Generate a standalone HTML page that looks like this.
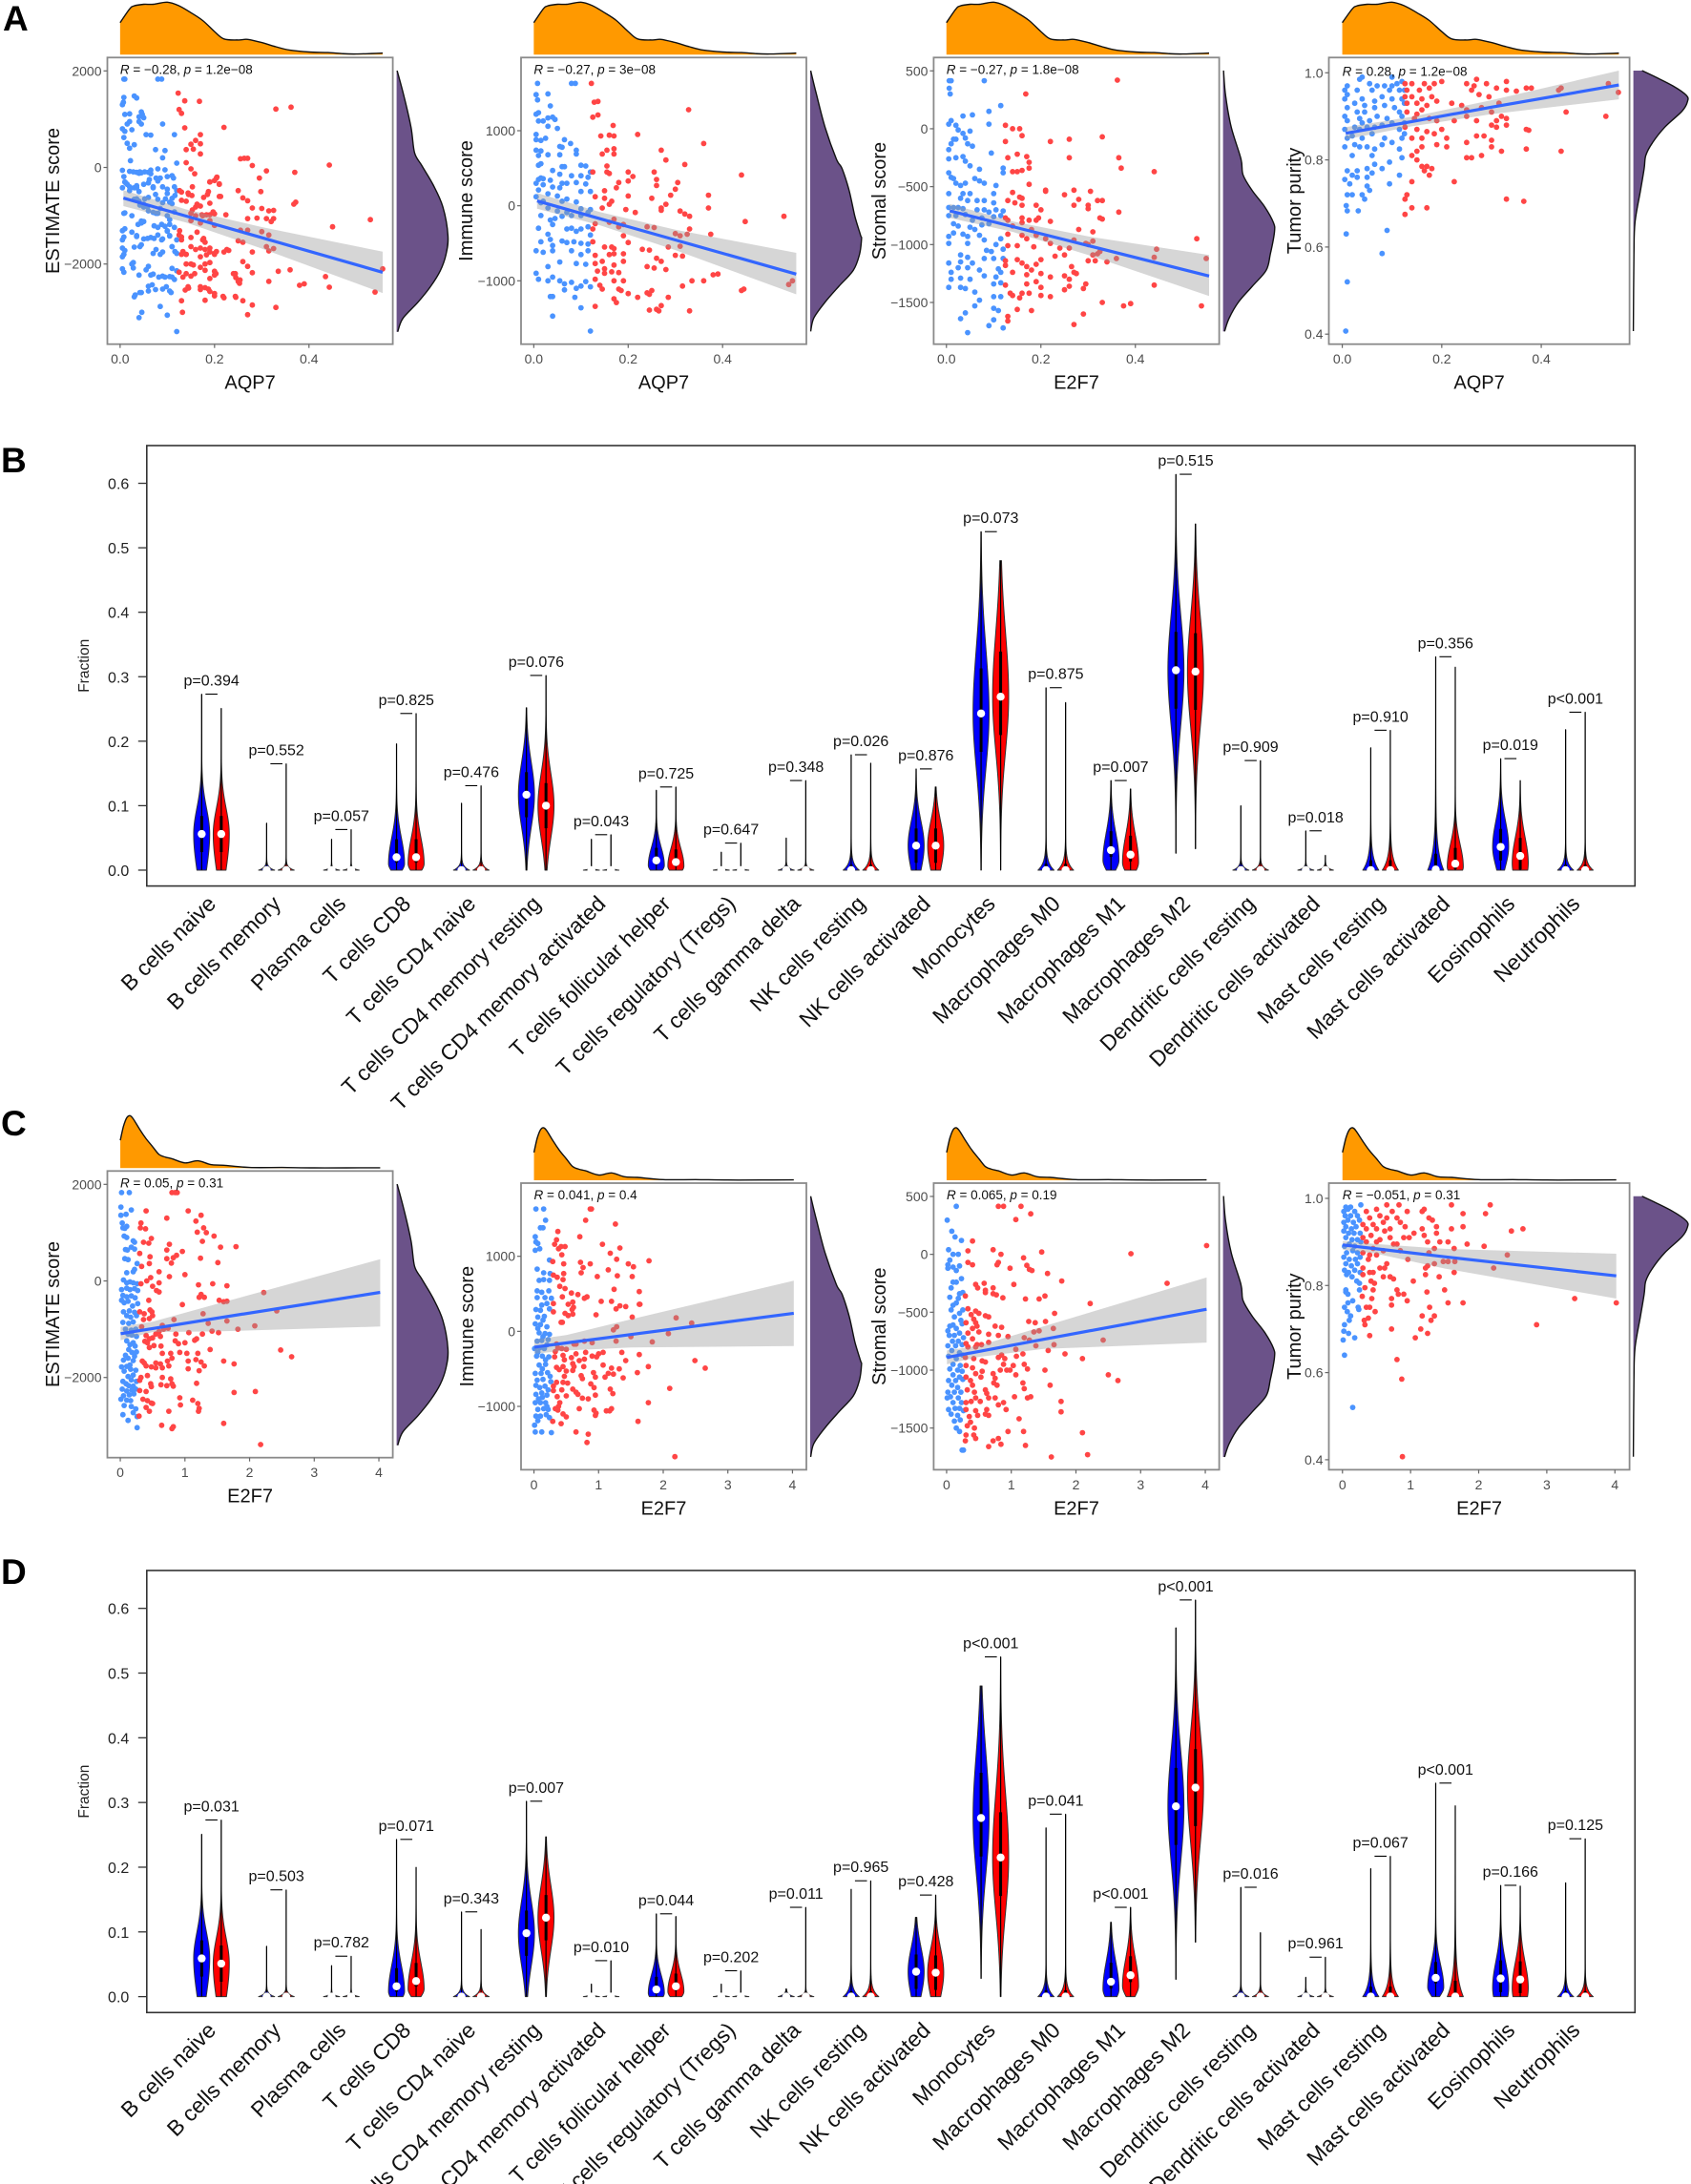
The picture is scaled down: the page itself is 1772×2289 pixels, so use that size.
<!DOCTYPE html>
<html lang="en">
<head>
<meta charset="utf-8">
<title>Immune infiltration correlation figure</title>
<style>
html,body{margin:0;padding:0;background:#fff;width:1772px;height:2289px;overflow:hidden}
svg{display:block}
text{font-family:"Liberation Sans",Arial,sans-serif}
</style>
</head>
<body>
<svg id="figure" xmlns="http://www.w3.org/2000/svg" width="1772" height="2289" viewBox="0 0 1772 2289">
<text x="3" y="32" font-size="37" font-weight="bold">A</text>
<text x="1" y="495" font-size="37" font-weight="bold">B</text>
<text x="1" y="1190" font-size="37" font-weight="bold">C</text>
<text x="1" y="1660" font-size="37" font-weight="bold">D</text>
</svg>
<script>
/* ---------- marginal densities: [value, relative density] ---------- */
const aqp7Density=[[0,.61],[.02,.87],[.03,.93],[.05,.96],[.07,.96],[.1,1],[.125,.93],[.15,.8],[.175,.65],[.2,.44],[.22,.3],[.25,.28],[.27,.29],[.3,.23],[.33,.15],[.36,.085],[.4,.05],[.44,.04],[.47,.02],[.5,.012],[.556,.03]];
const e2f7Density=[[0,.53],[.05,.8],[.1,.96],[.15,1],[.2,.94],[.3,.74],[.4,.56],[.5,.41],[.6,.26],[.7,.21],[.8,.18],[1,.1],[1.2,.14],[1.4,.067],[1.6,.055],[2,.012],[2.5,.012],[3,.005],[3.5,.005],[4.02,.008]];
const estimateDensity=[[2006,.01],[1492,.14],[832,.28],[304,.35],[40,.49],[-356,.71],[-818,.9],[-1412,1],[-1808,.96],[-2138,.85],[-2468,.66],[-2798,.41],[-3128,.12],[-3406,.02]];
const immuneDensity=[[1800,.01],[1488,.12],[1046,.29],[623,.51],[496,.62],[199,.76],[-140,.87],[-390,.98],[-440,1],[-648,.96],[-860,.84],[-1072,.56],[-1284,.29],[-1496,.07],[-1674,.01]];
const stromalDensity=[[503,.01],[288,.05],[14,.16],[-261,.35],[-398,.39],[-535,.57],[-673,.81],[-810,.98],[-893,1],[-1085,.92],[-1222,.84],[-1360,.57],[-1497,.3],[-1634,.12],[-1750,.03]];
const purityDensity=[[1.005,.16],[.992,.38],[.97,.73],[.948,.98],[.934,1],[.912,.9],[.875,.58],[.839,.35],[.81,.23],[.78,.2],[.729,.13],[.656,.03],[.583,.01],[.407,0]];

/* ---------- scatter points: [gene expression, score] ---------- */
const pointsA1=[[.008,1830],[.01,1830],[.08,1830],[.088,1830],[.008,1450],[.03,1480],[.035,1440],[.007,1350],[.005,1300],[.045,1150],[.047,1100],[.01,1100],[.02,1110],[.04,1050],[.05,1030],[.005,800],[.01,750],[.015,900],[.02,950],[.025,780],[.04,950],[.045,900],[.09,900],[.055,680],[.065,670],[.115,680],[.008,620],[.015,500],[.02,400],[.03,470],[.075,370],[.095,350],[.09,200],[.022,140],[.12,90],[.005,-60],[.02,-80],[.035,-100],[.04,-120],[.045,-110],[.06,-100],[.065,-130],[.08,-30],[.095,-50],[.1,-190],[.11,-170],[.085,-220],[.08,-280],[.01,-300],[.015,-350],[.02,-400],[.03,-420],[.035,-380],[.05,-350],[.06,-320],[.07,-400],[.09,-400],[.115,-400],[.12,-480],[.1,-540],[.04,-500],[.02,-480],[.06,-620],[.075,-560],[.08,-660],[.11,-640],[.105,-720],[.09,-730],[.04,-700],[.05,-760],[.03,-660],[.01,-940],[.025,-1000],[.05,-820],[.06,-900],[.07,-930],[.08,-950],[.1,-1000],[.115,-920],[.045,-1150],[.05,-1120],[.01,-1270],[.025,-1340],[.08,-1240],[.095,-1220],[.105,-1180],[.115,-1240],[.1,-1320],[.005,-1500],[.035,-1430],[.05,-1480],[.065,-1450],[.08,-1400],[.09,-1480],[.105,-1420],[.12,-1500],[.01,-1720],[.03,-1650],[.045,-1600],[.07,-1780],[.09,-1750],[.11,-1640],[.12,-1780],[.005,-1850],[.025,-2000],[.06,-2050],[.11,-2090],[.12,-2140],[.04,-2230],[.09,-2250],[.105,-2260],[.07,-2210],[.115,-2320],[.06,-2460],[.075,-2530],[.09,-2520],[.105,-2560],[.03,-2680],[.045,-2590],[.085,-2880],[.046,-3000],[.04,-3110],[.1,-3060],[.12,-3400],
[.008,-190],[.012,-320],[.005,-420],[.022,-420],[.035,-420],[.028,-90],[.042,-90],[.052,-90],[.065,-55],[.076,-220],[.062,-250],[.07,-420],[.1,-450],[.113,-220],[.116,-580],[.096,-650],[.052,-650],[.035,-650],[.042,-780],[.058,-815],[.076,-950],[.085,-850],[.11,-750],[.008,-950],[.038,-1180],[.045,-1110],[.072,-1210],[.088,-1180],[.105,-1080],[.1,-1310],[.005,-1310],[.008,-1440],[.035,-1410],[.042,-1640],[.058,-1470],[.072,-1470],[.088,-1500],[.105,-1410],[.11,-1640],[.116,-1740],[.005,-1670],[.008,-1800],[.076,-1700],[.085,-1800],[.028,-1970],[.005,-2100],[.008,-2170],[.028,-2080],[.055,-2120],[.065,-2230],[.082,-2270],[.095,-2270],[.11,-2270],[.098,-2470],[.068,-2430],[.06,-2560],[.108,-2590],[.042,-2590],[.032,-2640],
[.123,1540],[.137,1380],[.168,1370],[.125,1200],[.13,1120],[.137,820],[.22,830],[.33,1210],[.362,1250],[.17,680],[.16,560],[.17,490],[.15,480],[.14,370],[.155,380],[.17,280],[.255,180],[.263,190],[.27,190],[.28,40],[.14,100],[.15,-30],[.158,-130],[.31,-70],[.295,-220],[.37,-100],[.443,50],[.205,-200],[.2,-270],[.19,-300],[.21,-340],[.25,-480],[.298,-500],[.13,-510],[.145,-560],[.152,-580],[.185,-560],[.177,-620],[.21,-600],[.26,-630],[.27,-690],[.372,-720],[.368,-760],[.14,-700],[.16,-820],[.17,-800],[.19,-740],[.28,-840],[.3,-850],[.315,-900],[.325,-890],[.15,-950],[.16,-1000],[.175,-1000],[.19,-980],[.2,-960],[.27,-1060],[.29,-1050],[.31,-1060],[.325,-1060],[.32,-1120],[.15,-1100],[.17,-1150],[.19,-1100],[.2,-1200],[.255,-1300],[.27,-1300],[.3,-1330],[.315,-1400],[.125,-1400],[.13,-1500],[.15,-1450],[.175,-1500],[.18,-1550],[.25,-1520],[.26,-1550],[.31,-1640],[.16,-1700],[.18,-1700],[.19,-1750],[.2,-1780],[.22,-1750],[.23,-1720],[.325,-1680],[.315,-1730],[.28,-1750],[.13,-1800],[.14,-1800],[.17,-1850],[.2,-1800],[.14,-2000],[.155,-2020],[.18,-2000],[.26,-1950],[.27,-2050],[.18,-2130],[.2,-2150],[.125,-2170],[.14,-2200],[.15,-2250],[.2,-2230],[.24,-2200],[.245,-2280],[.28,-2180],[.335,-2150],[.36,-2120],[.315,-2360],[.25,-2360],[.253,-2400],[.145,-2500],[.138,-2540],[.17,-2530],[.18,-2490],[.19,-2570],[.2,-2660],[.22,-2700],[.245,-2690],[.13,-2760],[.18,-2750],[.26,-2760],[.28,-2850],[.33,-2900],[.132,-3000],[.27,-3050],[.38,-2440],[.39,-2410],[.435,-2260],[.443,-2480],[.54,-2580],[.556,-2100],[.45,-1230],[.53,-1080],
[.126,-480],[.13,-680],[.144,-530],[.153,-400],[.187,-500],[.19,-300],[.204,-220],[.21,-350],[.213,-600],[.163,-760],[.153,-880],[.173,-980],[.183,-980],[.197,-920],[.224,-980],[.126,-1310],[.13,-1440],[.163,-1340],[.177,-1470],[.15,-1640],[.17,-1670],[.19,-1670],[.226,-1700],[.133,-1740],[.14,-1800],[.183,-1810],[.204,-1740],[.15,-2000],[.17,-2070],[.19,-1970],[.133,-2270],[.158,-2200],[.203,-2200],[.19,-2300],[.244,-2200],[.254,-2330],[.17,-2470],[.187,-2520],[.144,-2470],[.2,-2610],[.218,-2670],[.244,-2670]];
const pointsA2=[[.008,1630],[.08,1630],[.088,1630],[.005,1480],[.03,1490],[.008,1410],[.035,1330],[.01,1240],[.005,1220],[.01,1130],[.02,1130],[.03,1170],[.04,1180],[.045,1150],[.03,1060],[.05,1030],[.005,950],[.005,880],[.015,870],[.025,900],[.065,880],[.078,830],[.055,790],[.06,780],[.005,740],[.015,730],[.09,740],[.01,670],[.03,680],[.055,680],[.09,690],[.015,560],[.01,540],[.06,520],[.065,520],[.1,540],[.11,530],[.12,450],[.04,470],[.055,420],[.08,400],[.1,400],[.115,380],[.01,350],[.015,370],[.02,360],[.035,340],[.005,300],[.02,280],[.06,300],[.07,300],[.09,310],[.11,290],[.04,250],[.055,240],[.01,210],[.03,160],[.1,190],[.12,190],[.05,130],[.06,60],[.07,90],[.09,50],[.005,120],[.015,40],[.02,60],[.1,-40],[.12,-50],[.03,-30],[.05,-70],[.07,-90],[.08,-130],[.1,-130],[.115,-90],[.015,-130],[.045,-170],[.06,-140],[.01,-300],[.035,-190],[.04,-250],[.07,-310],[.08,-300],[.09,-340],[.1,-310],[.115,-280],[.12,-390],[.03,-380],[.015,-480],[.035,-450],[.04,-530],[.06,-470],[.07,-490],[.085,-480],[.1,-500],[.115,-510],[.005,-600],[.02,-620],[.04,-600],[.08,-600],[.1,-650],[.115,-600],[.03,-810],[.055,-750],[.09,-770],[.11,-780],[.005,-900],[.01,-980],[.04,-950],[.055,-1000],[.065,-1040],[.08,-1020],[.09,-1100],[.1,-1070],[.11,-1010],[.12,-1080],[.03,-1000],[.065,-1120],[.04,-1210],[.035,-1210],[.087,-1220],[.1,-1360],[.04,-1470],[.12,-1670],
[.122,1630],[.128,1380],[.136,1390],[.125,1180],[.136,1210],[.168,1070],[.142,930],[.16,940],[.17,930],[.22,950],[.36,830],[.328,1280],[.27,740],[.145,690],[.155,740],[.17,760],[.17,690],[.28,610],[.32,550],[.125,450],[.155,530],[.155,450],[.16,430],[.2,450],[.255,450],[.21,390],[.2,330],[.18,310],[.175,240],[.26,350],[.26,270],[.305,310],[.3,220],[.29,140],[.37,140],[.15,200],[.13,120],[.15,100],[.165,60],[.145,-30],[.16,20],[.2,130],[.25,100],[.27,-30],[.27,-60],[.28,20],[.195,-50],[.215,-90],[.31,-70],[.32,-110],[.33,-140],[.37,-30],[.44,410],[.448,-210],[.53,-140],[.13,-240],[.16,-220],[.17,-180],[.19,-250],[.18,-280],[.24,-280],[.255,-290],[.33,-310],[.3,-370],[.31,-400],[.325,-380],[.375,-380],[.125,-310],[.125,-480],[.19,-400],[.15,-550],[.165,-550],[.17,-570],[.2,-490],[.31,-540],[.285,-550],[.23,-580],[.245,-590],[.13,-660],[.16,-650],[.17,-640],[.19,-640],[.3,-660],[.315,-670],[.27,-740],[.26,-700],[.13,-770],[.145,-740],[.15,-840],[.17,-790],[.19,-740],[.24,-810],[.255,-830],[.28,-850],[.135,-870],[.15,-900],[.165,-880],[.18,-890],[.13,-980],[.17,-1000],[.19,-1000],[.335,-1000],[.36,-1000],[.38,-920],[.39,-910],[.145,-1110],[.14,-1060],[.18,-1110],[.185,-1130],[.2,-1170],[.22,-1220],[.24,-1160],[.25,-1130],[.245,-1180],[.315,-1070],[.285,-1220],[.17,-1240],[.175,-1290],[.13,-1340],[.245,-1390],[.26,-1380],[.27,-1330],[.265,-1400],[.33,-1400],[.44,-1130],[.445,-1110],[.54,-1050],[.548,-1000]];
const pointsA3=[[.006,415],[.01,415],[.08,415],[.006,350],[.008,300],[.115,200],[.09,150],[.035,110],[.055,120],[.01,70],[.005,40],[.02,30],[.09,40],[.025,-10],[.035,-40],[.05,-20],[.04,-80],[.045,-130],[.015,-90],[.02,-90],[.01,-130],[.005,-180],[.055,-150],[.095,-210],[.005,-260],[.02,-250],[.035,-240],[.04,-280],[.05,-320],[.12,-340],[.07,-350],[.12,-380],[.005,-380],[.01,-420],[.015,-430],[.02,-470],[.06,-430],[.07,-450],[.08,-470],[.03,-490],[.04,-470],[.105,-490],[.1,-560],[.005,-560],[.035,-560],[.05,-560],[.03,-600],[.045,-620],[.065,-620],[.08,-620],[.1,-640],[.005,-680],[.015,-680],[.025,-680],[.035,-690],[.065,-700],[.08,-700],[.09,-720],[.105,-700],[.12,-710],[.005,-750],[.02,-750],[.04,-740],[.055,-790],[.075,-770],[.1,-760],[.115,-750],[.015,-820],[.025,-840],[.05,-850],[.06,-870],[.075,-830],[.09,-820],[.005,-930],[.015,-900],[.035,-910],[.045,-930],[.07,-920],[.08,-960],[.005,-990],[.045,-990],[.115,-950],[.105,-1000],[.12,-1040],[.085,-1050],[.095,-1060],[.03,-1090],[.045,-1110],[.08,-1120],[.005,-1160],[.03,-1150],[.055,-1160],[.1,-1120],[.12,-1120],[.01,-1240],[.025,-1200],[.045,-1200],[.07,-1220],[.11,-1210],[.115,-1240],[.01,-1300],[.03,-1290],[.05,-1300],[.08,-1270],[.105,-1280],[.115,-1330],[.005,-1370],[.03,-1370],[.04,-1380],[.06,-1410],[.1,-1340],[.1,-1450],[.115,-1450],[.07,-1480],[.06,-1530],[.1,-1550],[.11,-1570],[.04,-1590],[.03,-1640],[.1,-1650],[.09,-1700],[.12,-1720],[.045,-1760],
[.362,420],[.168,300],[.125,30],[.14,0],[.155,0],[.16,-60],[.125,-110],[.22,-110],[.26,-90],[.33,-70],[.15,-220],[.13,-250],[.17,-240],[.175,-290],[.26,-250],[.365,-250],[.37,-340],[.175,-340],[.14,-370],[.15,-370],[.16,-360],[.44,-370],[.175,-480],[.21,-540],[.21,-530],[.25,-570],[.27,-530],[.305,-540],[.14,-550],[.155,-590],[.16,-600],[.13,-620],[.145,-640],[.16,-660],[.28,-610],[.32,-620],[.33,-620],[.27,-660],[.3,-660],[.3,-690],[.365,-720],[.19,-660],[.2,-700],[.125,-770],[.13,-790],[.16,-770],[.175,-790],[.19,-790],[.195,-770],[.22,-800],[.325,-770],[.33,-780],[.16,-810],[.14,-840],[.18,-870],[.28,-870],[.31,-890],[.13,-910],[.16,-920],[.17,-950],[.19,-920],[.21,-950],[.22,-990],[.27,-960],[.295,-990],[.31,-970],[.3,-1000],[.53,-950],[.13,-1010],[.15,-1010],[.185,-1020],[.24,-1030],[.26,-1030],[.325,-1060],[.445,-1040],[.25,-1090],[.23,-1100],[.31,-1090],[.32,-1080],[.55,-1120],[.44,-1110],[.125,-1140],[.15,-1130],[.19,-1170],[.17,-1190],[.16,-1160],[.2,-1130],[.3,-1140],[.315,-1140],[.34,-1150],[.36,-1120],[.125,-1180],[.14,-1240],[.17,-1260],[.18,-1220],[.2,-1250],[.265,-1190],[.27,-1240],[.25,-1270],[.22,-1280],[.26,-1300],[.275,-1250],[.125,-1350],[.135,-1420],[.155,-1460],[.17,-1340],[.19,-1320],[.2,-1370],[.26,-1360],[.29,-1380],[.295,-1340],[.14,-1440],[.16,-1420],[.175,-1420],[.2,-1440],[.25,-1390],[.22,-1450],[.44,-1350],[.33,-1500],[.375,-1530],[.39,-1510],[.54,-1530],[.15,-1560],[.18,-1570],[.13,-1620],[.13,-1660],[.29,-1600],[.27,-1690]];
const pointsA4=[[.04,.99],[.1,.99],[.01,.97],[.005,.96],[.035,.985],[.055,.975],[.07,.97],[.085,.97],[.1,.97],[.11,.975],[.12,.98],[.005,.94],[.01,.95],[.03,.96],[.06,.96],[.095,.96],[.115,.96],[.125,.96],[.01,.92],[.025,.93],[.04,.94],[.045,.925],[.065,.935],[.08,.945],[.1,.94],[.12,.94],[.125,.93],[.005,.9],[.03,.91],[.045,.91],[.065,.92],[.085,.925],[.105,.92],[.115,.91],[.01,.89],[.035,.895],[.04,.885],[.055,.89],[.07,.9],[.09,.895],[.1,.885],[.12,.9],[.125,.885],[.005,.87],[.025,.875],[.035,.87],[.05,.875],[.065,.875],[.08,.88],[.115,.87],[.01,.85],[.02,.855],[.04,.85],[.06,.86],[.085,.85],[.12,.85],[.125,.86],[.005,.83],[.025,.835],[.035,.83],[.05,.83],[.065,.825],[.08,.835],[.1,.84],[.115,.825],[.02,.81],[.06,.81],[.12,.805],[.095,.795],[.01,.775],[.02,.765],[.03,.775],[.05,.78],[.065,.79],[.08,.78],[.005,.755],[.015,.745],[.03,.76],[.05,.76],[.06,.77],[.115,.765],[.05,.74],[.095,.745],[.04,.72],[.055,.73],[.01,.72],[.02,.72],[.045,.71],[.008,.695],[.01,.683],[.032,.683],[.008,.63],[.09,.638],[.08,.585],[.01,.52],[.007,.407],
[.33,.98],[.27,.985],[.2,.98],[.185,.975],[.165,.975],[.14,.975],[.126,.975],[.25,.975],[.265,.97],[.29,.975],[.31,.965],[.37,.965],[.38,.965],[.44,.965],[.535,.975],[.555,.955],[.435,.96],[.13,.96],[.155,.96],[.175,.965],[.26,.96],[.33,.96],[.35,.958],[.126,.945],[.14,.945],[.16,.94],[.18,.945],[.275,.95],[.295,.945],[.13,.93],[.15,.93],[.17,.925],[.19,.935],[.22,.93],[.24,.925],[.315,.93],[.13,.91],[.15,.905],[.16,.915],[.25,.915],[.28,.92],[.3,.91],[.145,.895],[.175,.895],[.19,.89],[.225,.89],[.25,.9],[.31,.89],[.32,.9],[.33,.895],[.45,.91],[.53,.9],[.27,.89],[.3,.88],[.126,.875],[.15,.87],[.17,.865],[.2,.87],[.31,.875],[.33,.88],[.37,.87],[.375,.868],[.14,.85],[.16,.85],[.185,.86],[.21,.85],[.25,.84],[.27,.855],[.3,.845],[.285,.855],[.16,.83],[.19,.835],[.21,.83],[.3,.83],[.32,.82],[.37,.825],[.15,.82],[.14,.81],[.28,.81],[.15,.8],[.44,.82],[.25,.805],[.26,.805],[.17,.785],[.16,.785],[.18,.78],[.165,.775],[.175,.765],[.14,.75],[.225,.75],[.13,.72],[.126,.71],[.33,.71],[.365,.705],[.14,.69],[.17,.69],[.126,.675]];
const pointsC1=[[.02,1830],[.14,1830],[.01,1530],[.17,1470],[.09,1380],[.01,1360],[.03,1200],[.04,1100],[.1,1130],[.07,1090],[.1,900],[.06,930],[.2,830],[.22,800],[.17,700],[.08,650],[.22,660],[.11,640],[.07,460],[.12,440],[.26,360],[.22,240],[.2,190],[.1,170],[.05,20],[.1,-40],[.15,-20],[.2,-40],[.26,-60],[.02,-180],[.1,-150],[.15,-180],[.22,-160],[.27,-200],[.04,-300],[.1,-330],[.17,-310],[.23,-350],[.02,-400],[.06,-450],[.12,-420],[.19,-520],[.27,-470],[.05,-640],[.14,-620],[.22,-650],[.1,-720],[.16,-750],[.25,-720],[.04,-860],[.13,-880],[.2,-850],[.08,-1000],[.17,-1020],[.24,-1000],[.12,-1100],[.18,-1120],[.25,-1150],[.1,-1240],[.15,-1320],[.2,-1280],[.23,-1350],[.13,-1420],[.18,-1480],[.25,-1470],[.08,-1540],[.12,-1600],[.22,-1560],[.05,-1640],[.2,-1650],[.02,-1780],[.1,-1770],[.15,-1740],[.06,-1870],[.16,-1830],[.24,-1850],[.12,-1980],[.2,-1950],[.04,-2080],[.17,-2050],[.25,-2080],[.09,-2130],[.13,-2170],[.2,-2180],[.03,-2240],[.1,-2280],[.18,-2260],[.24,-2240],[.05,-2380],[.14,-2360],[.21,-2340],[.01,-2450],[.1,-2470],[.16,-2480],[.06,-2580],[.17,-2600],[.24,-2650],[.04,-2770],[.2,-2730],[.26,-2810],[.12,-2890],[.26,-3040],
[.8,1830],[.85,1830],[.88,1830],[.4,1450],[1.05,1450],[1.25,1360],[.72,1300],[1.17,1240],[.32,1200],[.31,1100],[.39,1080],[1.29,1100],[1.33,1000],[1.19,1010],[1.45,930],[.48,880],[1.27,820],[.36,800],[.44,780],[.76,760],[1.55,700],[1.79,710],[.72,640],[.96,610],[.87,530],[.82,480],[.46,500],[.72,460],[.3,570],[.79,370],[1.24,470],[1.51,380],[.45,360],[.33,300],[1,130],[.6,190],[.76,90],[.47,70],[.41,0],[.6,-40],[.32,-60],[1.21,-80],[1.43,-60],[1.65,-100],[.5,-110],[.56,-200],[.6,-230],[2.22,-240],[1.25,-280],[1.22,-340],[1.3,-340],[.44,-400],[1.53,-400],[1.6,-430],[1.65,-420],[.96,-490],[.3,-640],[.46,-600],[.49,-640],[.37,-680],[2.42,-620],[1.28,-680],[.36,-800],[.45,-780],[.5,-720],[.83,-800],[1.65,-830],[1.36,-880],[.33,-950],[.65,-920],[.67,-1000],[.74,-980],[.86,-1100],[1.82,-1000],[2.08,-930],[1.42,-1040],[1.52,-1070],[.6,-1050],[.55,-1100],[.4,-1130],[.45,-1200],[.5,-1180],[.62,-1150],[1.06,-1070],[1.27,-1100],[.42,-1280],[.38,-1250],[.85,-1240],[.9,-1300],[1,-1280],[1.18,-1200],[1.15,-1230],[.45,-1380],[.52,-1340],[.63,-1350],[1.39,-1420],[2.48,-1430],[.65,-1500],[.78,-1500],[.92,-1480],[1.03,-1500],[1.2,-1500],[2.65,-1570],[.34,-1660],[.37,-1700],[.48,-1780],[.55,-1700],[.62,-1720],[.73,-1660],[.8,-1600],[1.05,-1660],[1.17,-1630],[1.25,-1680],[1.6,-1660],[1.76,-1720],[.4,-1760],[.55,-1800],[.65,-1800],[.75,-1760],[1.05,-1820],[1.22,-1860],[1.3,-1760],[.32,-2000],[.42,-1960],[.65,-2000],[.78,-2030],[.3,-2060],[.47,-2130],[.8,-2130],[1.18,-2120],[.48,-2190],[.63,-2150],[.72,-2170],[.82,-2180],[.3,-2270],[.4,-2290],[1.76,-2310],[2.09,-2290],[.35,-2450],[.42,-2480],[.48,-2530],[.5,-2540],[.92,-2420],[1.12,-2470],[1.2,-2540],[.4,-2620],[.45,-2700],[.75,-2700],[.93,-2570],[1.22,-2640],[.29,-2800],[.64,-2990],[.82,-3020],[.8,-3060],[1.6,-2950],[2.17,-3390],[1.21,-2700]];
const pointsC2=[[.03,1630],[.15,1630],[.18,1480],[.14,1380],[.1,1380],[.02,1260],[.03,1190],[.06,1170],[.02,1080],[.09,1100],[.24,950],[.05,830],[.15,780],[.25,770],[.08,680],[.15,690],[.24,680],[.05,540],[.12,520],[.23,540],[.05,450],[.17,450],[.27,440],[.12,350],[.2,370],[.03,290],[.1,280],[.24,300],[.06,190],[.16,200],[.02,100],[.1,90],[.2,60],[.08,-20],[.17,-30],[.24,-40],[.05,-130],[.12,-120],[.22,-110],[.01,-230],[.09,-220],[.16,-230],[.04,-330],[.13,-330],[.23,-340],[.08,-450],[.18,-440],[.02,-560],[.11,-560],[.21,-550],[.05,-650],[.14,-640],[.26,-670],[.09,-750],[.17,-730],[.03,-840],[.12,-820],[.2,-850],[.02,-950],[.1,-950],[.18,-950],[.06,-1040],[.15,-1030],[.22,-1040],[.03,-1130],[.1,-1130],[.19,-1110],[.24,-1150],[.01,-1250],[.06,-1190],[.02,-1340],[.12,-1340],[.27,-1350],[.14,150],[.06,40],[.14,-70],[.2,-180],[.06,-280],[.18,-380],[.13,-500],[.25,-600],[.03,-720],[.22,-780],[.07,-900],[.13,-880],[.2,-1000],
[.87,1630],[.89,1630],[.8,1480],[1.26,1430],[.37,1330],[.35,1220],[.71,1260],[.32,1160],[.42,1130],[.48,1130],[.38,1100],[1.06,1160],[1.33,1110],[1.18,1040],[.43,1020],[1.28,960],[1.78,940],[.29,930],[.46,900],[.72,920],[.87,900],[1.46,900],[1.54,860],[.76,850],[1.15,820],[.73,780],[.46,770],[.98,730],[1.29,740],[1.52,730],[.3,750],[.36,720],[.45,690],[.4,600],[.48,570],[1.24,560],[1.63,530],[.58,510],[.68,490],[.82,460],[.78,440],[.44,460],[1.04,400],[1.2,400],[1.64,360],[1.63,360],[.6,390],[.53,360],[.3,370],[1.33,340],[1.42,330],[.61,320],[.59,290],[1.27,300],[.3,260],[.48,240],[.53,210],[.6,230],[.96,220],[1.52,190],[2.2,180],[.42,120],[.44,120],[2.44,110],[1.28,60],[1.23,20],[2.08,-30],[1.27,-130],[.35,-170],[.62,-170],[.65,-170],[.78,-130],[.9,-150],[1.5,-70],[1.83,-140],[.37,-220],[.43,-230],[.5,-240],[.33,-270],[.65,-300],[.8,-280],[1,-300],[1.07,-280],[1.36,-280],[1.63,-310],[.45,-320],[.32,-340],[.47,-380],[.58,-350],[.78,-370],[.9,-330],[.97,-340],[.6,-430],[.7,-390],[1.42,-390],[2.49,-390],[.35,-480],[.45,-470],[.62,-470],[.77,-470],[1.07,-450],[1.2,-490],[1.32,-500],[1.77,-470],[2.65,-490],[.39,-510],[.5,-530],[.6,-520],[.92,-550],[1.15,-560],[1.23,-570],[1.6,-550],[.35,-680],[.47,-600],[.73,-590],[.75,-630],[.95,-610],[1.1,-610],[1.38,-620],[.3,-730],[.45,-680],[.52,-690],[.88,-700],[.93,-750],[2.1,-760],[.3,-790],[.43,-780],[.6,-770],[.65,-810],[.68,-840],[.95,-850],[1.18,-770],[1.22,-830],[.36,-870],[.5,-860],[.75,-890],[.84,-900],[.4,-950],[.38,-1000],[.33,-1030],[.7,-1030],[.93,-1050],[.96,-1090],[.95,-1120],[1.17,-1060],[1.2,-1030],[1.12,-1060],[1.77,-950],[.37,-1050],[.45,-1100],[.5,-1140],[.29,-1200],[.42,-1230],[1.61,-1200],[.65,-1340],[.84,-1370],[.82,-1480],[2.18,-1670]];
const pointsC3=[[.15,415],[.01,295],[.08,200],[.13,150],[.23,120],[.03,40],[.1,0],[.18,0],[.05,-50],[.02,-90],[.02,-120],[.1,-110],[.2,-100],[.15,-140],[.23,-210],[.1,-240],[.15,-240],[.07,-290],[.25,-330],[.2,-340],[.05,-370],[.18,-380],[.1,-440],[.15,-420],[.25,-480],[.07,-480],[.2,-510],[.12,-540],[.05,-620],[.22,-570],[.24,-600],[.1,-610],[.15,-640],[.02,-660],[.04,-700],[.12,-700],[.2,-680],[.26,-720],[.09,-750],[.18,-750],[.02,-790],[.14,-790],[.24,-780],[.08,-830],[.2,-850],[.03,-880],[.15,-900],[.25,-870],[.1,-950],[.21,-960],[.05,-990],[.17,-1000],[.24,-1010],[.1,-1040],[.2,-1060],[.03,-1090],[.14,-1090],[.25,-1080],[.08,-1130],[.17,-1150],[.02,-1190],[.12,-1190],[.22,-1190],[.06,-1230],[.18,-1240],[.01,-1240],[.1,-1280],[.23,-1280],[.03,-1340],[.13,-1330],[.2,-1330],[.26,-1350],[.07,-1380],[.17,-1390],[.12,-1440],[.21,-1430],[.15,-1500],[.2,-1530],[.26,-1690],[.24,-1690],
[.8,415],[.88,415],[1.15,415],[1.07,300],[1.3,350],[.4,115],[4.02,75],[.72,40],[.33,30],[.84,0],[1.19,-30],[1.47,20],[2.85,5],[.33,-70],[.78,-90],[.8,-70],[.4,-90],[1.24,-95],[.98,-120],[1.28,-130],[1.32,-140],[1.56,-165],[1.78,-230],[.58,-250],[.45,-260],[.48,-290],[.72,-290],[.6,-310],[1.04,-260],[3.41,-250],[.6,-330],[.72,-340],[.77,-350],[.29,-360],[.87,-375],[1.22,-385],[1.43,-385],[1.52,-360],[2.22,-425],[.33,-470],[.45,-490],[.5,-510],[.38,-520],[.6,-530],[.65,-540],[.42,-560],[1.67,-510],[.3,-590],[.45,-590],[1.27,-580],[1.37,-590],[1.53,-580],[.75,-620],[.85,-630],[.4,-640],[.47,-620],[1.65,-640],[.33,-680],[.5,-670],[1.35,-670],[1.43,-660],[.65,-690],[.8,-700],[.95,-710],[.4,-730],[1.2,-720],[.3,-770],[.47,-780],[.54,-780],[.65,-760],[1.28,-740],[1.38,-790],[2.42,-740],[1.66,-780],[.33,-800],[.45,-800],[1.07,-820],[1.18,-860],[1.57,-830],[.29,-890],[.42,-900],[.85,-870],[.9,-900],[1.08,-880],[.55,-920],[.6,-930],[.8,-890],[1.83,-860],[2.1,-900],[.3,-960],[.4,-980],[.88,-950],[1.2,-950],[1.03,-960],[1.25,-990],[.45,-1030],[.55,-1010],[.72,-1030],[.83,-1000],[.93,-1000],[.98,-1000],[1.52,-1000],[.3,-1060],[.37,-1090],[.53,-1060],[.75,-1070],[1.07,-1040],[2.5,-1040],[.4,-1130],[.73,-1110],[.78,-1130],[2.65,-1090],[1.18,-1110],[.32,-1170],[.43,-1190],[.6,-1170],[1.2,-1160],[1.6,-1130],[.62,-1200],[.65,-1240],[.75,-1240],[.45,-1240],[.52,-1270],[.3,-1280],[.38,-1270],[.8,-1300],[.88,-1280],[1.05,-1230],[1.25,-1240],[1.3,-1230],[1.77,-1270],[.3,-1340],[.45,-1350],[.62,-1340],[.92,-1340],[1.77,-1360],[.35,-1400],[.48,-1390],[.6,-1380],[.65,-1390],[1.12,-1420],[.32,-1480],[.37,-1450],[.43,-1500],[.95,-1530],[1.19,-1530],[2.1,-1540],[.3,-1560],[.42,-1560],[.45,-1590],[.29,-1610],[.72,-1610],[.8,-1590],[.65,-1660],[.84,-1640],[1.22,-1650],[1.62,-1750],[2.18,-1730]];
const pointsC4=[[.05,.98],[.12,.98],[.27,.985],[.02,.97],[.08,.975],[.18,.97],[.04,.96],[.12,.96],[.22,.96],[.02,.945],[.08,.95],[.16,.945],[.25,.95],[.05,.935],[.13,.93],[.2,.935],[.02,.925],[.09,.92],[.17,.92],[.26,.92],[.05,.91],[.14,.905],[.22,.905],[.03,.89],[.1,.895],[.18,.89],[.27,.9],[.06,.875],[.15,.88],[.22,.875],[.02,.865],[.1,.86],[.19,.86],[.26,.865],[.05,.85],[.13,.845],[.22,.85],[.03,.835],[.09,.83],[.18,.835],[.26,.83],[.06,.825],[.14,.82],[.21,.81],[.25,.805],[.05,.79],[.25,.79],[.08,.78],[.05,.785],[.15,.765],[.08,.76],[.23,.75],[.24,.745],[.03,.75],[.12,.73],[.07,.74],[.1,.72],[.03,.71],[.02,.695],[.09,.69],[.18,.68],[.01,.675],[.03,.64],[.15,.52],
[.65,.985],[.83,.985],[1.6,.985],[2.17,.985],[.35,.97],[.5,.975],[.73,.97],[1.17,.97],[1.2,.975],[2.1,.965],[1.77,.965],[.95,.97],[.4,.955],[.55,.96],[.65,.955],[.8,.955],[1.27,.955],[.3,.94],[.45,.94],[.6,.945],[.7,.93],[.85,.945],[1.32,.95],[.35,.93],[.5,.93],[.62,.925],[.92,.935],[1.17,.93],[1.38,.935],[1.6,.93],[1.77,.935],[2.65,.93],[.3,.91],[.42,.915],[.55,.905],[.7,.91],[.9,.91],[1.05,.92],[1.2,.915],[1.38,.92],[2.48,.925],[.35,.9],[.5,.9],[.8,.895],[.98,.91],[1.25,.9],[1.43,.9],[1.55,.9],[.45,.885],[.6,.88],[.75,.895],[1.35,.885],[1.64,.885],[1.83,.895],[2.08,.89],[.3,.875],[.4,.87],[.5,.87],[.85,.88],[1.27,.875],[2.42,.87],[.38,.86],[.65,.85],[.96,.86],[1.25,.845],[1.55,.855],[1.65,.855],[.3,.84],[.4,.83],[.55,.84],[.62,.84],[1.22,.84],[1.35,.85],[1.48,.855],[2.22,.84],[.3,.825],[.45,.83],[.6,.82],[.7,.82],[1.22,.825],[1.42,.82],[1.64,.83],[.42,.81],[.47,.805],[.75,.815],[1.04,.81],[.33,.795],[.45,.79],[.8,.79],[.9,.78],[1.24,.785],[1.5,.79],[.29,.775],[.43,.77],[.72,.77],[.95,.765],[.82,.78],[3.41,.77],[4.02,.76],[1.55,.76],[.35,.75],[.72,.755],[1.28,.75],[.4,.75],[1.77,.76],[.48,.74],[1.17,.73],[1.35,.73],[.32,.72],[.38,.725],[1.3,.72],[.33,.71],[2.85,.71],[.72,.7],[1.15,.7],[1.25,.69],[.4,.685],[1.07,.68],[.8,.63],[.87,.585],[.88,.407]];

/* ---------- regression fits ---------- */
const trendXAqp7=[.007,.14,.3,.556];
const trendXE2f7=[.005,.5,1.5,4.02];
const fitA1=[-634,-1007,-1455,-2172];
const upperA1=[-470,-870,-1235,-1745];
const lowerA1=[-800,-1140,-1680,-2600];
const fitA2=[64,-172,-456,-911];
const upperA2=[170,-85,-320,-627];
const lowerA2=[-40,-260,-590,-1180];
const fitA3=[-709,-845,-1009,-1272];
const upperA3=[-650,-800,-930,-1090];
const lowerA3=[-770,-890,-1090,-1445];
const fitA4=[.861,.888,.921,.972];
const upperA4=[.875,.899,.937,1.005];
const lowerA4=[.847,.877,.905,.939];
const fitC1=[-1092,-985,-770,-237];
const upperC1=[-950,-845,-475,450];
const lowerC1=[-1230,-1060,-1045,-945];
const fitC2=[-211,-155,-42,241];
const upperC2=[-110,-50,160,676];
const lowerC2=[-300,-255,-215,-195];
const fitC3=[-890,-838,-734,-474];
const upperC3=[-830,-789,-622,-200];
const lowerC3=[-950,-885,-817,-762];
const fitC4=[.893,.884,.866,.822];
const upperC4=[.902,.895,.884,.873];
const lowerC4=[.882,.873,.839,.77];

/* ---------- axis ticks ---------- */
const ticksAqp7=[0,.2,.4];
const ticksE2f7=[0,1,2,3,4];
const ticksEstimate=[2000,0,-2000];
const ticksImmune=[1000,0,-1000];
const ticksStromal=[500,0,-500,-1000,-1500];
const ticksPurity=[1,.8,.6,.4];
const ticksFraction=[0,.1,.2,.3,.4,.5,.6];

/* ---------- violin panels ---------- */
const cellTypes=["B cells naive","B cells memory","Plasma cells","T cells CD8","T cells CD4 naive","T cells CD4 memory resting","T cells CD4 memory activated","T cells follicular helper","T cells regulatory (Tregs)","T cells gamma delta","NK cells resting","NK cells activated","Monocytes","Macrophages M0","Macrophages M1","Macrophages M2","Dendritic cells resting","Dendritic cells activated","Mast cells resting","Mast cells activated","Eosinophils","Neutrophils"];
const spreadUp=[.04,.005,.003,.04,.007,.05,.002,.028,.002,.004,.012,.038,.1,.014,.042,.085,.006,.004,.022,.035,.04,.012];
const spreadDown=[.055,.003,.002,.012,.003,.05,.002,.01,.002,.003,.005,.038,.085,.005,.015,.085,.003,.003,.01,.012,.03,.005];
const pValuesB=["p=0.394","p=0.552","p=0.057","p=0.825","p=0.476","p=0.076","p=0.043","p=0.725","p=0.647","p=0.348","p=0.026","p=0.876","p=0.073","p=0.875","p=0.007","p=0.515","p=0.909","p=0.018","p=0.910","p=0.356","p=0.019","p<0.001"];
const topBlueB=[.273,.073,.048,.196,.104,.252,.048,.124,.028,.05,.179,.157,.525,.283,.139,.614,.1,.061,.19,.331,.173,.218];
const topRedB=[.251,.165,.063,.243,.131,.302,.055,.129,.042,.139,.166,.129,.48,.26,.126,.537,.17,.023,.217,.315,.139,.245];
const medianBlueB=[.056,0,0,.02,0,.117,0,.015,0,0,0,.038,.243,0,.031,.31,0,0,0,.001,.036,0];
const medianRedB=[.056,0,0,.02,0,.1,0,.0125,0,0,0,.038,.269,0,.024,.308,0,0,0,.01,.022,0];
const bottomBlueB=[0,0,0,0,0,0,0,0,0,0,0,0,0,0,0,.026,0,0,0,0,0,0];
const bottomRedB=[0,0,0,0,0,0,0,0,0,0,0,0,0,0,0,.033,0,0,0,0,0,0];
const pValuesD=["p=0.031","p=0.503","p=0.782","p=0.071","p=0.343","p=0.007","p=0.010","p=0.044","p=0.202","p=0.011","p=0.965","p=0.428","p<0.001","p=0.041","p<0.001","p<0.001","p=0.016","p=0.961","p=0.067","p<0.001","p=0.166","p=0.125"];
const topBlueD=[.251,.078,.048,.243,.131,.302,.0196,.128,.0196,.012,.166,.1225,.48,.261,.115,.57,.169,.03,.198,.33,.172,.176];
const topRedD=[.273,.165,.0625,.2,.104,.247,.0556,.124,.04,.138,.179,.157,.525,.282,.138,.613,.099,.061,.217,.295,.171,.244];
const medianBlueD=[.059,0,0,.016,0,.098,0,.011,0,0,0,.0385,.276,0,.023,.294,0,0,0,.029,.028,0];
const medianRedD=[.051,0,0,.024,0,.122,0,.016,0,0,0,.037,.215,0,.033,.323,0,0,0,0,.0265,0];
const bottomBlueD=[0,0,0,0,0,0,0,0,0,0,0,0,.028,0,0,.0265,0,0,0,0,0,0];
const bottomRedD=[0,0,0,0,0,0,0,0,0,0,0,0,0,0,0,.084,0,0,0,0,0,0];

/* ---------- drawing helpers ---------- */
const NS="http://www.w3.org/2000/svg";
const root=document.getElementById("figure");
function add(parent,tag,attrs,content){
  const n=document.createElementNS(NS,tag);
  for(const k in attrs){n.setAttribute(k,attrs[k]);}
  if(content!==undefined){n.textContent=content;}
  parent.appendChild(n);
  return n;
}
function scale(d0,d1,r0,r1){return v=>r0+(v-d0)/(d1-d0)*(r1-r0);}
function smooth(p){
  let s="";
  for(let i=0;i<p.length-1;i++){
    const a=p[Math.max(0,i-1)],b=p[i],c=p[i+1],d=p[Math.min(p.length-1,i+2)];
    const c1=[b[0]+(c[0]-a[0])/6,b[1]+(c[1]-a[1])/6];
    const c2=[c[0]-(d[0]-b[0])/6,c[1]-(d[1]-b[1])/6];
    s+="C"+c1[0].toFixed(1)+" "+c1[1].toFixed(1)+" "+c2[0].toFixed(1)+" "+c2[1].toFixed(1)+" "+c[0].toFixed(1)+" "+c[1].toFixed(1);
  }
  return s;
}

function drawScatter(cfg){
  const [l,t,r,b]=cfg.box;
  const sx=scale(cfg.xDomain[0],cfg.xDomain[1],l,r);
  const sy=scale(cfg.yDomain[0],cfg.yDomain[1],b,t);
  const g=add(root,"g",{});
  
  

  /* top marginal density */
  const topBase=t-3, topH=55;
  const topPts=cfg.topDensity.map(d=>[sx(d[0]),topBase-d[1]*topH]);
  const topFirst=topPts[0],topLast=topPts[topPts.length-1];
  const topFill=add(g,"path",{d:"M"+topFirst[0]+" "+topBase+"L"+topFirst[0]+" "+topFirst[1]+smooth(topPts)+"L"+topLast[0]+" "+topBase+"Z",fill:"#FF9900"});
  
  
  const topLine=add(g,"path",{d:"M"+topFirst[0]+" "+topFirst[1]+smooth(topPts),fill:"none",stroke:"#111","stroke-width":1.4});
  
  

  /* right marginal density */
  const rightBase=r+4, rightW=(r-l)*.18;
  const rightPts=cfg.rightDensity.map(d=>[rightBase+d[1]*rightW,sy(d[0])]);
  const rFirst=rightPts[0],rLast=rightPts[rightPts.length-1];
  const rightFill=add(g,"path",{d:"M"+rightBase+" "+rFirst[1]+"L"+rFirst[0]+" "+rFirst[1]+smooth(rightPts)+"L"+rightBase+" "+rLast[1]+"Z",fill:"#6B5289"});
  
  
  const rightLine=add(g,"path",{d:"M"+rFirst[0]+" "+rFirst[1]+smooth(rightPts),fill:"none",stroke:"#111","stroke-width":1.4});
  
  

  /* points */
  cfg.points.forEach(p=>{
    const c=add(g,"circle",{cx:sx(p[0]).toFixed(1),cy:sy(p[1]).toFixed(1),r:2.9,fill:p[0]<cfg.split?"#4A93FF":"#FF4545"});
    
    
  });

  /* confidence band and fit */
  const up=cfg.trendX.map((x,i)=>sx(x).toFixed(1)+","+sy(cfg.upper[i]).toFixed(1));
  const lo=cfg.trendX.map((x,i)=>sx(x).toFixed(1)+","+sy(cfg.lower[i]).toFixed(1)).reverse();
  const band=add(g,"polygon",{points:up.concat(lo).join(" "),fill:"rgba(153,153,153,0.4)"});
  
  
  const fit=add(g,"polyline",{points:cfg.trendX.map((x,i)=>sx(x).toFixed(1)+","+sy(cfg.fit[i]).toFixed(1)).join(" "),fill:"none",stroke:"#3366FF","stroke-width":3.2});
  
  

  /* frame */
  const frame=add(g,"rect",{x:l,y:t,width:r-l,height:b-t,fill:"none",stroke:"#8a8a8a","stroke-width":1.8});
  
  

  /* ticks */
  cfg.xTicks.forEach(v=>{
    const x=sx(v);
    const tk=add(g,"line",{x1:x,x2:x,y1:b,y2:b+4,stroke:"#666","stroke-width":1.2});
    
    
    const lb=add(g,"text",{x:x,y:b+20.5,"font-size":14,"text-anchor":"middle",fill:"#4d4d4d"},cfg.xFormat(v));
    
    
  });
  cfg.yTicks.forEach(v=>{
    const y=sy(v);
    const tk=add(g,"line",{x1:l-4,x2:l,y1:y,y2:y,stroke:"#666","stroke-width":1.2});
    
    
    const s=cfg.yFormat(v);
    const lb=add(g,"text",{x:l-6,y:y+5,"font-size":14,"text-anchor":"end",fill:"#4d4d4d"},s);
    
    
  });

  /* titles */
  const xt=add(g,"text",{x:(l+r)/2,y:b+47,"font-size":20,"text-anchor":"middle",fill:"#111"},cfg.xTitle);
  
  
  const my=(t+b)/2;
  const yt=add(g,"text",{x:cfg.yTitleX,y:my,"font-size":20,"text-anchor":"middle",fill:"#111",transform:"rotate(-90 "+cfg.yTitleX+" "+my+")"},cfg.yTitle);
  
  

  /* statistic */
  const st=add(g,"text",{x:sx(0),y:t+17+(cfg.statDy||0),"font-size":13.5,fill:"#111"});
  
  
  add(st,"tspan",{"font-style":"italic"},"R");
  add(st,"tspan",{}," = "+cfg.stat[0]+", ");
  add(st,"tspan",{"font-style":"italic"},"p");
  add(st,"tspan",{}," = "+cfg.stat[1]);
}

function violinWidth(v,mode,median,up,down){
  if(median<=.001){ return Math.exp(-v/(up*.85)); }
  const z=v>=mode?(v-mode)/up:(mode-v)/down;
  return Math.exp(-.5*z*z);
}

function drawViolin(g,cx,top,bottom,median,up,down,color,sy){
  const mode=median>=.036?median:median*.5;
  const H=8.4, n=220, left=[], right=[];
  for(let i=0;i<=n;i++){
    const v=bottom+(top-bottom)*i/n;
    const w=H*violinWidth(v,mode,median,up,down);
    left.push((cx-w).toFixed(2)+" "+sy(v).toFixed(2));
    right.push((cx+w).toFixed(2)+" "+sy(v).toFixed(2));
  }
  const body=add(g,"path",{d:"M"+left.join("L")+"L"+right.reverse().join("L")+"Z",fill:color,stroke:"#333","stroke-width":1,"stroke-linejoin":"round"});
  
  
  const whisker=add(g,"line",{x1:cx,x2:cx,y1:sy(bottom),y2:sy(top),stroke:"#000","stroke-width":1.2});
  
  
  const box=add(g,"line",{x1:cx,x2:cx,y1:sy(Math.max(bottom,median-Math.min(down,up)*.7)),y2:sy(median+up*.7),stroke:"#000","stroke-width":3});
  
  
  const dot=add(g,"circle",{cx:cx,cy:sy(median),r:4.2,fill:"#fff"});
  
  
}

function drawViolinPanel(cfg){
  const [l,t,r,b]=cfg.box;
  const sy=scale(-.0246,.6585,b,t);
  const sx=i=>221.6+68.06*i;
  const g=add(root,"g",{});
  
  
  const frame=add(g,"rect",{x:l,y:t,width:r-l,height:b-t,fill:"none",stroke:"#333","stroke-width":1.6});
  
  
  ticksFraction.forEach(v=>{
    const y=sy(v);
    const tk=add(g,"line",{x1:l-9,x2:l,y1:y,y2:y,stroke:"#333","stroke-width":1.3});
    
    
    const lb=add(g,"text",{x:l-18.5,y:y+6,"font-size":16,"text-anchor":"end",fill:"#222"},v.toFixed(1));
    
    
  });
  const my=(t+b)/2;
  const yt=add(g,"text",{x:93,y:my,"font-size":15.5,"text-anchor":"middle",fill:"#222",transform:"rotate(-90 93 "+my+")"},"Fraction");
  
  
  cellTypes.forEach((name,i)=>{
    const c=sx(i);
    drawViolin(g,c-10.25,cfg.topBlue[i],cfg.bottomBlue[i],cfg.medianBlue[i],spreadUp[i],spreadDown[i],"#0000FF",sy);
    drawViolin(g,c+10.25,cfg.topRed[i],cfg.bottomRed[i],cfg.medianRed[i],spreadUp[i],spreadDown[i],"#FF0000",sy);
    const ym=sy(Math.max(cfg.topBlue[i],cfg.topRed[i]));
    const bar=add(g,"line",{x1:c-6.3,x2:c+6.3,y1:ym,y2:ym,stroke:"#000","stroke-width":1.1});
    
    
    const pl=add(g,"text",{x:c,y:ym-9,"font-size":16,"text-anchor":"middle",fill:"#111"},cfg.pValues[i]);
    
    
    const ax=c+6, ay=b+20;
    const cl=add(g,"text",{x:ax,y:ay,"font-size":23,"text-anchor":"end",fill:"#111",transform:"rotate(-45 "+ax+" "+ay+")"},name);
    
    
  });
}

/* ---------- panels ---------- */
const fmtAqp=v=>v.toFixed(1);
const fmtE2=v=>String(v);
const fmtInt=v=>String(v).replace("-","\u2212");
const fmtPur=v=>v.toFixed(1);
const domE=[-3660,2277],domI=[-1844,1975],domS=[-1860,615],domP=[.377,1.035];
const domAx=[-.027,.5775],domCx=[-.2,4.215];
const colX=[[112.5,411.6],[546,845],[978.4,1277.6],[1392.5,1707.6]];

drawScatter({name:"scatter-estimate-aqp7",box:[colX[0][0],60.3,colX[0][1],360.7],xDomain:domAx,yDomain:domE,xTicks:ticksAqp7,yTicks:ticksEstimate,xFormat:fmtAqp,yFormat:fmtInt,xTitle:"AQP7",yTitle:"ESTIMATE score",yTitleX:62,stat:["\u22120.28","1.2e\u221208"],points:pointsA1,split:.1225,topDensity:aqp7Density,rightDensity:estimateDensity,trendX:trendXAqp7,fit:fitA1,upper:upperA1,lower:lowerA1});
drawScatter({name:"scatter-immune-aqp7",box:[colX[1][0],60.3,colX[1][1],360.7],xDomain:domAx,yDomain:domI,xTicks:ticksAqp7,yTicks:ticksImmune,xFormat:fmtAqp,yFormat:fmtInt,xTitle:"AQP7",yTitle:"Immune score",yTitleX:495,stat:["\u22120.27","3e\u221208"],points:pointsA2,split:.1215,topDensity:aqp7Density,rightDensity:immuneDensity,trendX:trendXAqp7,fit:fitA2,upper:upperA2,lower:lowerA2});
drawScatter({name:"scatter-stromal-e2f7",box:[colX[2][0],60.3,colX[2][1],360.7],xDomain:domAx,yDomain:domS,xTicks:ticksAqp7,yTicks:ticksStromal,xFormat:fmtAqp,yFormat:fmtInt,xTitle:"E2F7",yTitle:"Stromal score",yTitleX:928,stat:["\u22120.27","1.8e\u221208"],points:pointsA3,split:.1225,topDensity:aqp7Density,rightDensity:stromalDensity,trendX:trendXAqp7,fit:fitA3,upper:upperA3,lower:lowerA3});
drawScatter({name:"scatter-purity-aqp7",box:[colX[3][0],60.3,colX[3][1],360.7],xDomain:domAx,yDomain:domP,xTicks:ticksAqp7,yTicks:ticksPurity,xFormat:fmtAqp,yFormat:fmtPur,xTitle:"AQP7",yTitle:"Tumor purity",yTitleX:1363,stat:["0.28","1.2e\u221208"],statDy:2,points:pointsA4,split:.1257,topDensity:aqp7Density,rightDensity:purityDensity,trendX:trendXAqp7,fit:fitA4,upper:upperA4,lower:lowerA4});

drawViolinPanel({name:"violin-panel-aqp7",box:[153.8,467,1713.3,928.6],pValues:pValuesB,topBlue:topBlueB,topRed:topRedB,medianBlue:medianBlueB,medianRed:medianRedB,bottomBlue:bottomBlueB,bottomRed:bottomRedB});

drawScatter({name:"scatter-estimate-e2f7",box:[colX[0][0],1227.3,colX[0][1],1527.7],xDomain:domCx,yDomain:domE,xTicks:ticksE2f7,yTicks:ticksEstimate,xFormat:fmtE2,yFormat:fmtInt,xTitle:"E2F7",yTitle:"ESTIMATE score",yTitleX:62,stat:["0.05","0.31"],points:pointsC1,split:.28,topDensity:e2f7Density,rightDensity:estimateDensity,trendX:trendXE2f7,fit:fitC1,upper:upperC1,lower:lowerC1});
drawScatter({name:"scatter-immune-e2f7",box:[colX[1][0],1240,colX[1][1],1540.4],xDomain:domCx,yDomain:domI,xTicks:ticksE2f7,yTicks:ticksImmune,xFormat:fmtE2,yFormat:fmtInt,xTitle:"E2F7",yTitle:"Immune score",yTitleX:496,stat:["0.041","0.4"],points:pointsC2,split:.28,topDensity:e2f7Density,rightDensity:immuneDensity,trendX:trendXE2f7,fit:fitC2,upper:upperC2,lower:lowerC2});
drawScatter({name:"scatter-stromal-e2f7-c",box:[colX[2][0],1240,colX[2][1],1540.4],xDomain:domCx,yDomain:domS,xTicks:ticksE2f7,yTicks:ticksStromal,xFormat:fmtE2,yFormat:fmtInt,xTitle:"E2F7",yTitle:"Stromal score",yTitleX:928,stat:["0.065","0.19"],points:pointsC3,split:.28,topDensity:e2f7Density,rightDensity:stromalDensity,trendX:trendXE2f7,fit:fitC3,upper:upperC3,lower:lowerC3});
drawScatter({name:"scatter-purity-e2f7",box:[colX[3][0],1240,colX[3][1],1540.4],xDomain:domCx,yDomain:domP,xTicks:ticksE2f7,yTicks:ticksPurity,xFormat:fmtE2,yFormat:fmtPur,xTitle:"E2F7",yTitle:"Tumor purity",yTitleX:1363,stat:["\u22120.051","0.31"],points:pointsC4,split:.28,topDensity:e2f7Density,rightDensity:purityDensity,trendX:trendXE2f7,fit:fitC4,upper:upperC4,lower:lowerC4});

drawViolinPanel({name:"violin-panel-e2f7",box:[153.8,1646,1713.3,2109.3],pValues:pValuesD,topBlue:topBlueD,topRed:topRedD,medianBlue:medianBlueD,medianRed:medianRedD,bottomBlue:bottomBlueD,bottomRed:bottomRedD});
</script>
</body>
</html>
